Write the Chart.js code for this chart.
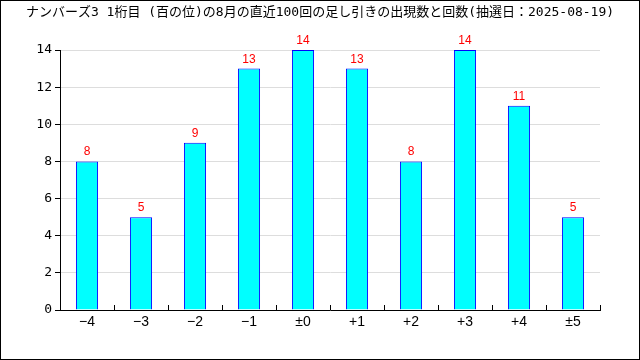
<!DOCTYPE html>
<html>
<head>
<meta charset="utf-8">
<script src="https://cdn.jsdelivr.net/npm/chart.js@4"></script>
<style>
  body { margin: 0; background: #fff; }
  #wrap { width: 640px; height: 360px; }
</style>
</head>
<body>
<div id="wrap"><canvas id="diffChart" width="640" height="360"></canvas></div>
<script>
const titleText = 'ナンバーズ3 1桁目 (百の位)の8月の直近100回の足し引きの出現数と回数(抽選日：2025-08-19)';
const categories = ['−4', '−3', '−2', '−1', '±0', '+1', '+2', '+3', '+4', '±5'];
const counts = [8, 5, 9, 13, 14, 13, 8, 14, 11, 5];
const yTicks = [0, 2, 4, 6, 8, 10, 12, 14];

// title centred on the whole canvas, value labels, inward x ticks, outer frame
const extrasPlugin = {
  id: 'extras',
  afterDatasetsDraw(chart) {
    const ctx = chart.ctx;
    const meta = chart.getDatasetMeta(0);
    ctx.save();
    ctx.fillStyle = '#ff0000';
    ctx.font = '12px "Liberation Sans", Arial, sans-serif';
    ctx.textAlign = 'center';
    ctx.textBaseline = 'alphabetic';
    meta.data.forEach((bar, i) => {
      ctx.fillText(String(counts[i]), bar.x, bar.y - 6);
    });
    ctx.restore();
  },
  afterDraw(chart) {
    const ctx = chart.ctx;
    const xs = chart.scales.x;
    const step = (xs.right - xs.left) / categories.length;
    ctx.save();
    ctx.fillStyle = '#000';
    ctx.font = '13px "DejaVu Sans Mono", "Noto Sans CJK JP", monospace';
    ctx.textAlign = 'center';
    ctx.textBaseline = 'middle';
    ctx.fillText(titleText, chart.width / 2, 13);

    ctx.strokeStyle = '#000';
    ctx.lineWidth = 1;
    ctx.beginPath();
    for (let i = 1; i <= categories.length; i++) {
      const x = Math.round(xs.left + i * step) + 0.5;
      ctx.moveTo(x, xs.top);
      ctx.lineTo(x, xs.top - 5);
    }
    ctx.stroke();
    ctx.strokeRect(0.5, 0.5, chart.width - 1, chart.height - 1);
    ctx.restore();
  }
};

new Chart(document.getElementById('diffChart').getContext('2d'), {
  type: 'bar',
  data: {
    labels: categories,
    datasets: [{
      data: counts,
      backgroundColor: '#00ffff',
      borderColor: '#0000ff',
      borderWidth: 1,
      categoryPercentage: 1,
      barPercentage: 0.41
    }]
  },
  options: {
    responsive: false,
    animation: false,
    layout: { padding: { left: 0, right: 40, top: 50, bottom: 0 } },
    plugins: {
      legend: { display: false },
      tooltip: { enabled: false },
      title: { display: false }
    },
    scales: {
      x: {
        afterFit: s => { s.height = 50; },
        grid: { display: false, drawTicks: false, tickLength: 0 },
        border: { color: '#000', width: 1 },
        ticks: {
          color: '#000',
          padding: 4,
          font: { family: '"Liberation Sans", Arial, sans-serif', size: 14 }
        }
      },
      y: {
        min: 0,
        max: 14,
        afterFit: s => { s.width = 60; },
        afterBuildTicks: s => { s.ticks = yTicks.map(v => ({ value: v })); },
        grid: { color: '#dddddd', tickColor: '#000', tickLength: 5 },
        border: { color: '#000', width: 1 },
        ticks: {
          color: '#000',
          padding: 3,
          font: { family: '"DejaVu Sans Mono", monospace', size: 13 }
        }
      }
    }
  },
  plugins: [extrasPlugin]
});
</script>
</body>
</html>
